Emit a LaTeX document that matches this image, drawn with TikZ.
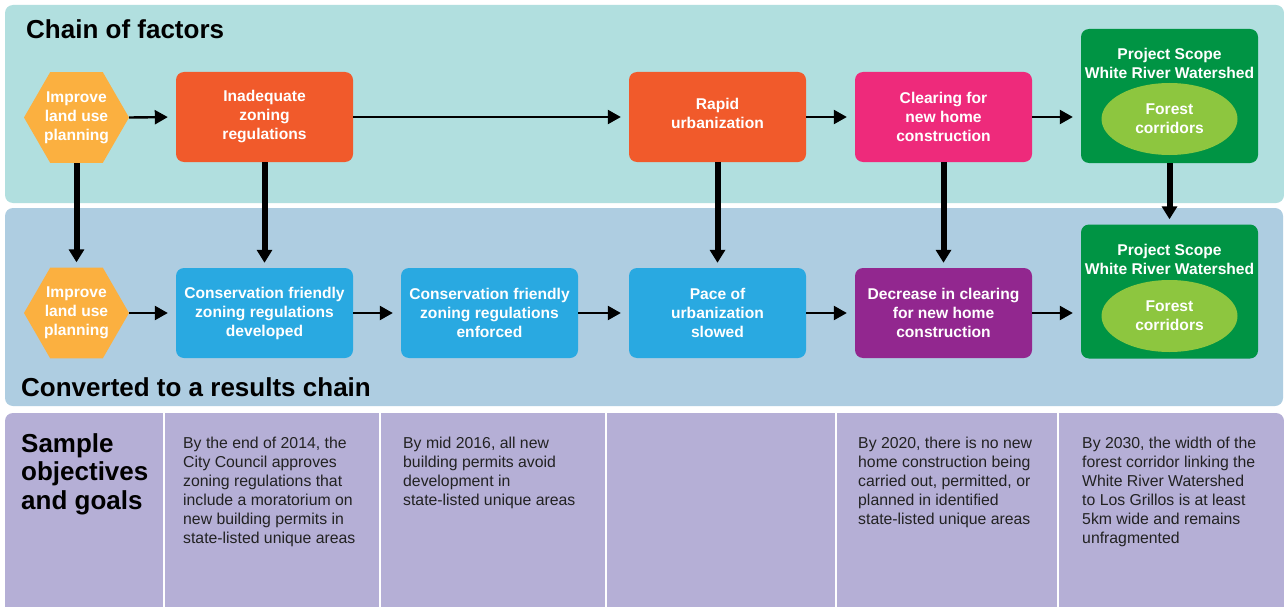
\documentclass[tikz,border=0pt]{standalone}
\usepackage{fontspec}
\setmainfont{Liberation Sans}
\usetikzlibrary{shapes.geometric,arrows.meta}
\definecolor{panelteal}{HTML}{B1DFDF}
\definecolor{panelblue}{HTML}{AECDE1}
\definecolor{panellav}{HTML}{B5AFD6}
\definecolor{hexorange}{HTML}{FBB040}
\definecolor{redorange}{HTML}{F15A2B}
\definecolor{hotpink}{HTML}{EE2A7B}
\definecolor{skyblue}{HTML}{29A9E1}
\definecolor{deeppurple}{HTML}{92278F}
\definecolor{darkgreen}{HTML}{009444}
\definecolor{lightgreen}{HTML}{8DC63F}
\definecolor{textgray}{HTML}{222222}
\tikzset{
  hexa/.style={regular polygon, regular polygon sides=6, minimum size=105pt, inner sep=0pt, fill=hexorange},
  boxtxt/.style={text=white, font=\fontsize{15.6}{19}\selectfont\bfseries, align=center, inner sep=0pt},
  rbox/.style={rounded corners=8pt, minimum width=177pt, minimum height=90pt, inner sep=0pt, text=white, font=\fontsize{15.6}{19}\selectfont\bfseries, align=center},
  gbox/.style={rounded corners=8pt, minimum width=177pt, minimum height=134pt, inner sep=0pt, fill=darkgreen},
  gell/.style={ellipse, minimum width=136pt, minimum height=72pt, inner sep=0pt, fill=lightgreen, text=white, font=\fontsize{15.6}{19}\selectfont\bfseries, align=center},
  harrow/.style={line width=2.4pt, -{Triangle[length=13pt,width=14pt]}, shorten >=8pt},
  varrow/.style={line width=6pt, -{Triangle[length=13pt,width=15pt]}, shorten >=5pt},
  heading/.style={anchor=base west, inner sep=0pt, font=\fontsize{26}{28.5}\selectfont\bfseries},
  bighead/.style={anchor=north west, inner sep=0pt, font=\fontsize{26}{28.5}\selectfont\bfseries, align=left},
  coltxt/.style={anchor=north west, inner sep=0pt, text=textgray, font=\fontsize{15.8}{19}\selectfont, align=left},
  sep/.style={white, line width=2pt}
}
\begin{document}
\begin{tikzpicture}[x=1pt,y=-1pt]
\useasboundingbox (0,0) rectangle (1284,607);
\fill[white] (0,0) rectangle (1284,607);
% panels
\fill[panelteal, rounded corners=8pt] (5,5) rectangle (1284,203);
\fill[panelblue, rounded corners=8pt] (5,208) rectangle (1283,406);
\fill[panellav] (5,607) [rounded corners=8pt] -- (5,413) -- (1284,413) [sharp corners] -- (1284,607) -- cycle;
\foreach \x in {164,380,606,836,1058} \draw[sep] (\x,413) -- (\x,607);

% headings
\node[heading] (t1) at (26,39) {Chain of factors};
\node[heading] (t2) at (21,396) {Converted to a results chain};
\node[bighead] (t3) at (21,433) {Sample\\objectives\\and goals};

% top row
\node[hexa] (h1) at (76.5,117.5) {};
\node[boxtxt] (h1t) at (h1) {Improve\\land use\\planning};
\node[rbox, fill=redorange] (inad) at (264.5,117) {Inadequate\\zoning\\regulations};
\node[rbox, fill=redorange] (rapid) at (717.5,117) {Rapid\\urbanization\\[-12pt]};
\node[rbox, fill=hotpink] (clear) at (943.5,117) {Clearing for\\new home\\construction};
\node[gbox] (gtop) at (1169.5,96) {};
\node[boxtxt] (gtopt) at (1169.5,63.5) {Project Scope\\White River Watershed};
\node[gell] (etop) at (1169.5,119) {Forest\\corridors};

% bottom row
\node[hexa] (h2) at (76.5,313) {};
\node[boxtxt] (h2t) at (h2) {Improve\\land use\\planning};
\node[rbox, fill=skyblue] (dev) at (264.5,313) {Conservation friendly\\zoning regulations\\developed};
\node[rbox, fill=skyblue] (enf) at (489.5,313) {Conservation friendly\\zoning regulations\\enforced};
\node[rbox, fill=skyblue] (pace) at (717.5,313) {Pace of\\urbanization\\slowed};
\node[rbox, fill=deeppurple] (dec) at (943.5,313) {Decrease in clearing\\for new home\\construction};
\node[gbox] (gbot) at (1169.5,291.5) {};
\node[boxtxt] (gbott) at (1169.5,259) {Project Scope\\White River Watershed};
\node[gell] (ebot) at (1169.5,316) {Forest\\corridors};

% horizontal arrows
\draw[harrow] (h1.east) -- (inad.west);
\draw[harrow] (inad.east) -- (rapid.west);
\draw[harrow] (rapid.east) -- (clear.west);
\draw[harrow] (clear.east) -- (clear.east -| gtop.west);
\draw[harrow] (h2.east) -- (dev.west);
\draw[harrow] (dev.east) -- (enf.west);
\draw[harrow] (enf.east) -- (pace.west);
\draw[harrow] (pace.east) -- (dec.west);
\draw[harrow] (dec.east) -- (dec.east -| gbot.west);

% vertical arrows
\draw[varrow] (h1.south) -- (h2.north);
\draw[varrow] (inad.south) -- (dev.north);
\draw[varrow] (rapid.south) -- (pace.north);
\draw[varrow] (clear.south) -- (dec.north);
\draw[varrow] (gtop.south) -- (gbot.north);

% objectives
\node[coltxt] (o1) at (183,437) {By the end of 2014, the\\City Council approves\\zoning regulations that\\include a moratorium on\\new building permits in\\state-listed unique areas};
\node[coltxt] (o2) at (403,437) {By mid 2016, all new\\building permits avoid\\development in\\state-listed unique areas};
\node[coltxt] (o3) at (858,437) {By 2020, there is no new\\home construction being\\carried out, permitted, or\\planned in identified\\state-listed unique areas};
\node[coltxt] (o4) at (1082,437) {By 2030, the width of the\\forest corridor linking the\\White River Watershed\\to Los Grillos is at least\\5km wide and remains\\unfragmented};
\end{tikzpicture}
\end{document}
